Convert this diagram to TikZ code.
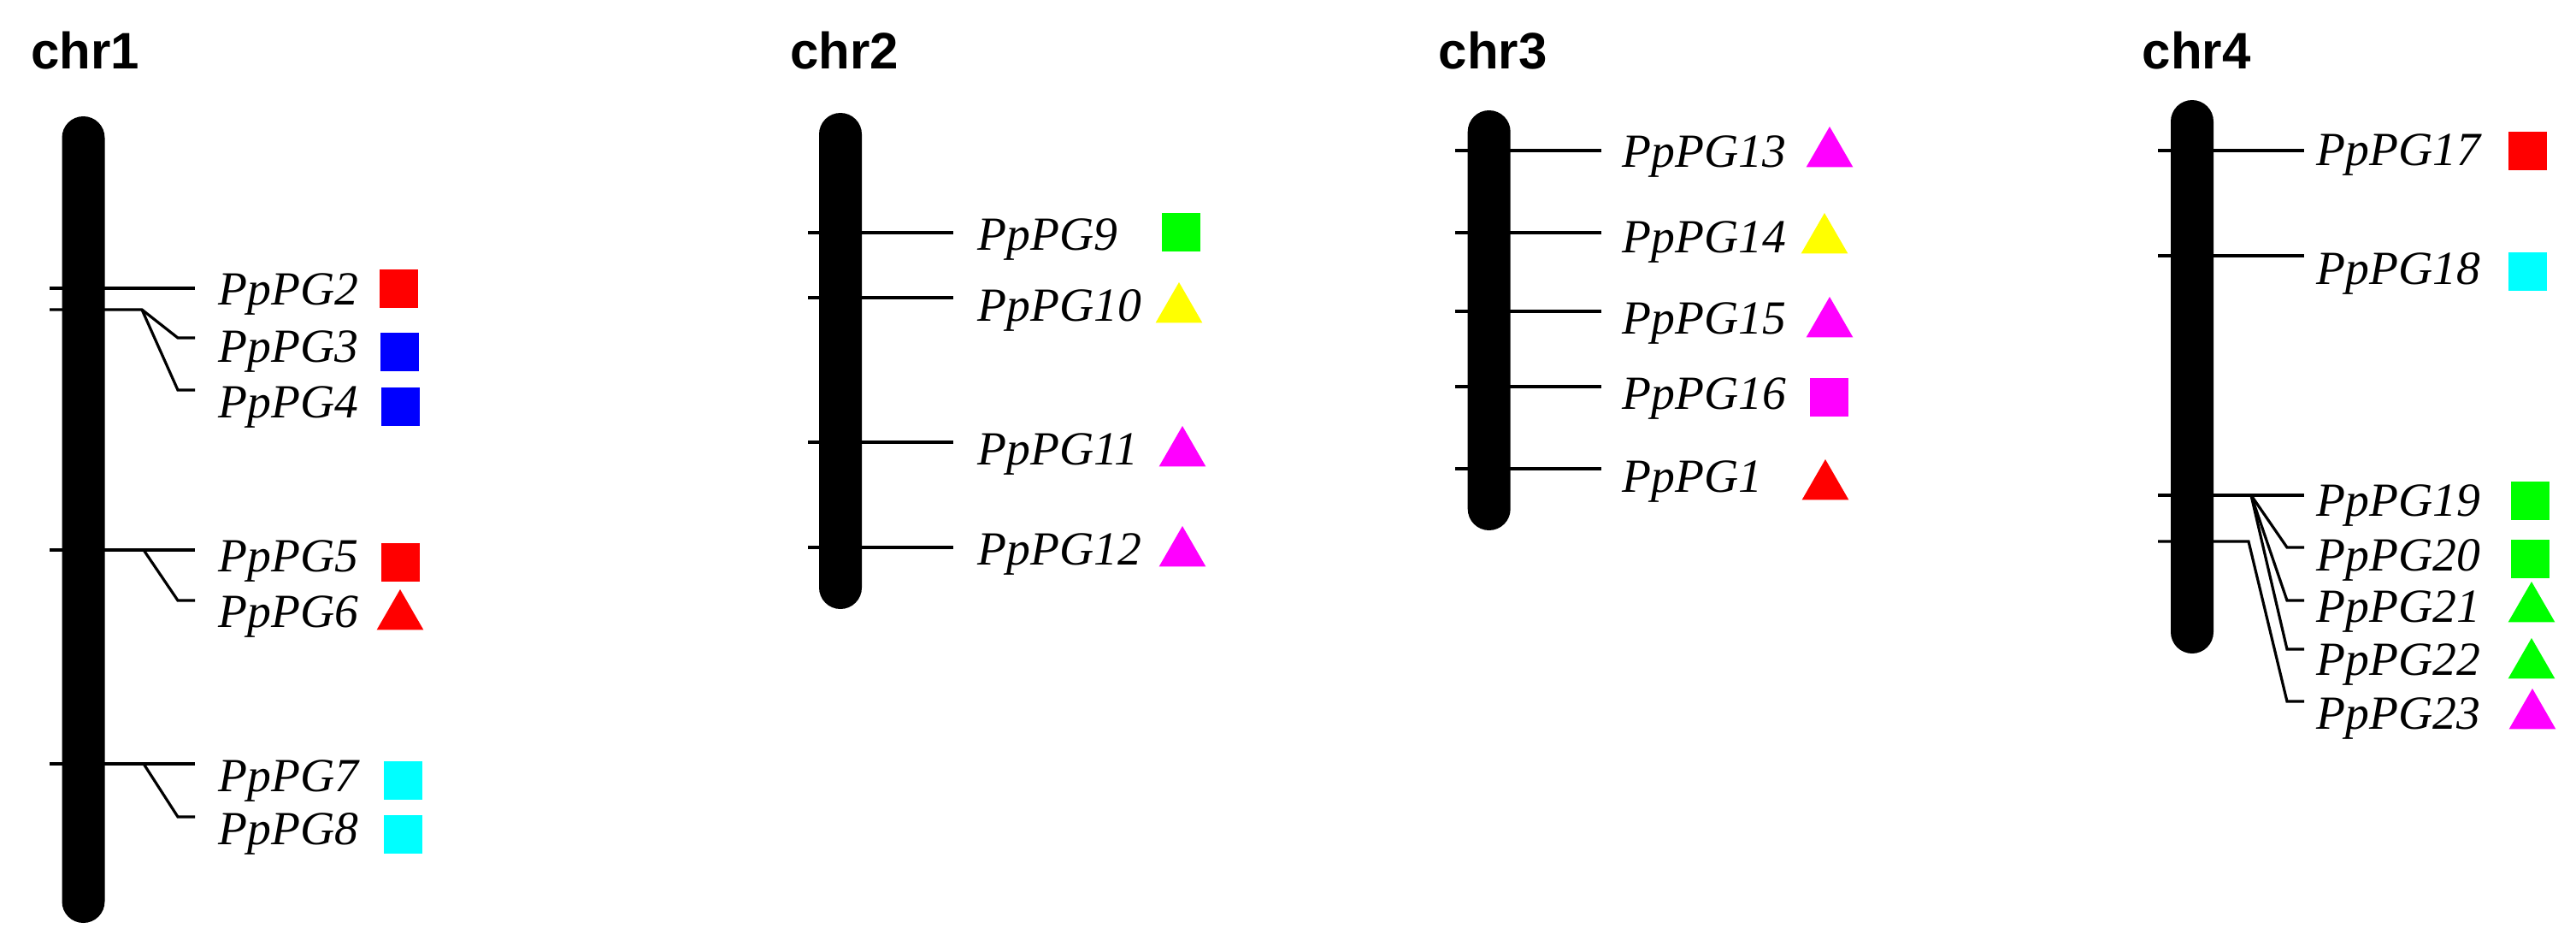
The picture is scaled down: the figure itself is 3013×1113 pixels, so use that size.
\documentclass[tikz,border=0pt]{standalone}
\usepackage{fontspec}
\setmainfont{Liberation Serif}
\newfontfamily\chrfont{Liberation Sans}
\usetikzlibrary{shapes.geometric}
\definecolor{mkred}{RGB}{255,0,0}
\definecolor{mkblue}{RGB}{0,0,255}
\definecolor{mkcyan}{RGB}{0,255,255}
\definecolor{mkgreen}{RGB}{0,255,0}
\definecolor{mkyellow}{RGB}{255,255,0}
\definecolor{mkmagenta}{RGB}{255,0,255}
\begin{document}
\begin{tikzpicture}[x=0.25pt,y=-0.25pt,
  chrom/.style={fill=black, draw=none, rounded corners=6.25pt, minimum width=12.5pt, inner sep=0pt},
  tick/.style={line width=0.8pt, black},
  gene/.style={anchor=base west, inner sep=0pt, font=\itshape\fontsize{13.9}{14}\selectfont},
  chrname/.style={anchor=base, inner sep=0pt, font=\chrfont\bfseries\fontsize{15}{15}\selectfont},
  sq/.style={fill=#1, draw=none, minimum size=11.25pt, inner sep=0pt},
  tri/.style={fill=#1, draw=none, regular polygon, regular polygon sides=3, minimum size=15.75pt, inner sep=0pt}]
\fill[white] (0,0) rectangle (3013,1113);
\useasboundingbox (0,0) rectangle (3013,1113);

% ---------------- chr1 ----------------
\coordinate (a2L) at (58,337);  \coordinate (a2R) at (228,337);
\coordinate (a34L) at (58,362); \coordinate (a34J) at (166,362);
\coordinate (a3B) at (208,395); \coordinate (a3R) at (228,395);
\coordinate (a4B) at (208,456); \coordinate (a4R) at (228,456);
\coordinate (a5L) at (58,643);  \coordinate (a5R) at (228,643); \coordinate (a5J) at (168,643);
\coordinate (a6B) at (208,702); \coordinate (a6R) at (228,702);
\coordinate (a7L) at (58,893);  \coordinate (a7R) at (228,893); \coordinate (a7J) at (168,893);
\coordinate (a8B) at (208,955); \coordinate (a8R) at (228,955);
\draw[tick] (a2L) -- (a2R);
\draw[tick] (a34L) -- (a34J) -- (a3B) -- (a3R);
\draw[tick] (a34J) -- (a4B) -- (a4R);
\draw[tick] (a5L) -- (a5R);
\draw[tick] (a5J) -- (a6B) -- (a6R);
\draw[tick] (a7L) -- (a7R);
\draw[tick] (a7J) -- (a8B) -- (a8R);
\node[chrom, minimum height=235.75pt] (c1) at (97.5,607.5) {};
\node[chrname] (n1) at (100,80) {chr1};
\node[gene] (l2) at (255,356) {PpPG2};
\node[gene] (l3) at (255,423) {PpPG3};
\node[gene] (l4) at (255,488) {PpPG4};
\node[gene] (l5) at (255,668) {PpPG5};
\node[gene] (l6) at (255,733) {PpPG6};
\node[gene] (l7) at (255,925) {PpPG7};
\node[gene] (l8) at (255,987) {PpPG8};
\node[sq=mkred] (m2) at (466,337) {};
\node[sq=mkblue] (m3) at (467.5,411) {};
\node[sq=mkblue] (m4) at (468.5,475.5) {};
\node[sq=mkred] (m5) at (468,657) {};
\node[tri=mkred] (m6) at (468,720.5) {};
\node[sq=mkcyan] (m7) at (471,912.5) {};
\node[sq=mkcyan] (m8) at (471,975) {};

% ---------------- chr2 ----------------
\coordinate (b9L) at (945,272);  \coordinate (b9R) at (1115,272);
\coordinate (b10L) at (945,348); \coordinate (b10R) at (1115,348);
\coordinate (b11L) at (945,517); \coordinate (b11R) at (1115,517);
\coordinate (b12L) at (945,640); \coordinate (b12R) at (1115,640);
\draw[tick] (b9L) -- (b9R);
\draw[tick] (b10L) -- (b10R);
\draw[tick] (b11L) -- (b11R);
\draw[tick] (b12L) -- (b12R);
\node[chrom, minimum height=145pt] (c2) at (983,422) {};
\node[chrname] (n2) at (988,80) {chr2};
\node[gene] (l9) at (1143,292) {PpPG9};
\node[gene] (l10) at (1143,375) {PpPG10};
\node[gene] (l11) at (1143,543) {PpPG11};
\node[gene] (l12) at (1143,660) {PpPG12};
\node[sq=mkgreen] (m9) at (1381.5,271) {};
\node[tri=mkyellow] (m10) at (1379,361.5) {};
\node[tri=mkmagenta] (m11) at (1383,529.5) {};
\node[tri=mkmagenta] (m12) at (1383,646.5) {};

% ---------------- chr3 ----------------
\coordinate (c13L) at (1702,176); \coordinate (c13R) at (1873,176);
\coordinate (c14L) at (1702,272); \coordinate (c14R) at (1873,272);
\coordinate (c15L) at (1702,364); \coordinate (c15R) at (1873,364);
\coordinate (c16L) at (1702,452); \coordinate (c16R) at (1873,452);
\coordinate (c1L) at (1702,548);  \coordinate (c1R) at (1873,548);
\draw[tick] (c13L) -- (c13R);
\draw[tick] (c14L) -- (c14R);
\draw[tick] (c15L) -- (c15R);
\draw[tick] (c16L) -- (c16R);
\draw[tick] (c1L) -- (c1R);
\node[chrom, minimum height=122.75pt] (c3) at (1741.7,374.5) {};
\node[chrname] (n3) at (1746,80) {chr3};
\node[gene] (l13) at (1897,195) {PpPG13};
\node[gene] (l14) at (1897,295) {PpPG14};
\node[gene] (l15) at (1897,390) {PpPG15};
\node[gene] (l16) at (1897,478) {PpPG16};
\node[gene] (l1) at (1897,575) {PpPG1};
\node[tri=mkmagenta] (m13) at (2140,179.5) {};
\node[tri=mkyellow] (m14) at (2134,280.5) {};
\node[tri=mkmagenta] (m15) at (2140,378.5) {};
\node[sq=mkmagenta] (m16) at (2139,464) {};
\node[tri=mkred] (m1) at (2135,568.5) {};

% ---------------- chr4 ----------------
\coordinate (d17L) at (2524,176); \coordinate (d17R) at (2695,176);
\coordinate (d18L) at (2524,299); \coordinate (d18R) at (2695,299);
\coordinate (d19L) at (2524,579); \coordinate (d19R) at (2695,579); \coordinate (d19J) at (2633,579);
\coordinate (d20B) at (2675,640); \coordinate (d20R) at (2695,640);
\coordinate (d21B) at (2675,702); \coordinate (d21R) at (2695,702);
\coordinate (d22B) at (2675,759); \coordinate (d22R) at (2695,759);
\coordinate (d23L) at (2524,633); \coordinate (d23J) at (2630,633);
\coordinate (d23B) at (2675,820); \coordinate (d23R) at (2695,820);
\draw[tick] (d17L) -- (d17R);
\draw[tick] (d18L) -- (d18R);
\draw[tick] (d19L) -- (d19R);
\draw[tick] (d19J) -- (d20B) -- (d20R);
\draw[tick] (d19J) -- (d21B) -- (d21R);
\draw[tick] (d19J) -- (d22B) -- (d22R);
\draw[tick] (d23L) -- (d23J) -- (d23B) -- (d23R);
\node[chrom, minimum height=161.75pt] (c4) at (2564,440.5) {};
\node[chrname] (n4) at (2569,80) {chr4};
\node[gene] (l17) at (2709,194) {PpPG17};
\node[gene] (l18) at (2709,332) {PpPG18};
\node[gene] (l19) at (2709,603) {PpPG19};
\node[gene] (l20) at (2709,667) {PpPG20};
\node[gene] (l21) at (2709,727) {PpPG21};
\node[gene] (l22) at (2709,789) {PpPG22};
\node[gene] (l23) at (2709,852) {PpPG23};
\node[sq=mkred] (m17) at (2956,176) {};
\node[sq=mkcyan] (m18) at (2956,317) {};
\node[sq=mkgreen] (m19) at (2959.5,585) {};
\node[sq=mkgreen] (m20) at (2959.5,653) {};
\node[tri=mkgreen] (m21) at (2961,711.5) {};
\node[tri=mkgreen] (m22) at (2961,777.5) {};
\node[tri=mkmagenta] (m23) at (2962,836.5) {};
\end{tikzpicture}
\end{document}
